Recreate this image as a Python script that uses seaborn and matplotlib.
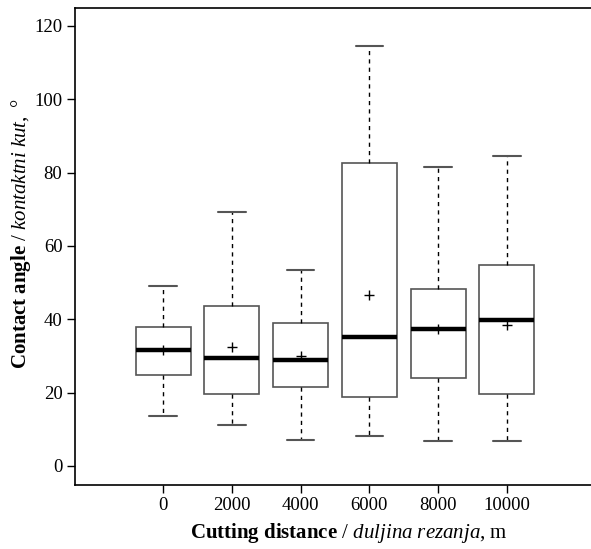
import pandas as pd
import matplotlib
matplotlib.use("Agg")
import matplotlib.pyplot as plt
import seaborn as sns

# five-number summaries
distances = ["0", "2000", "4000", "6000", "8000", "10000"]
mins = [13.6, 11.2, 7.0, 8.2, 6.8, 6.8]
q1s = [24.9, 19.7, 21.5, 18.7, 24.0, 19.7]
medians = [31.5, 29.5, 29.0, 35.2, 37.3, 39.8]
q3s = [38.0, 43.5, 39.0, 82.6, 48.2, 54.8]
maxs = [49.2, 69.2, 53.4, 114.4, 81.6, 84.4]
means = [31.5, 32.5, 30.0, 46.7, 37.3, 38.5]

sns.set_style("white")
plt.rcParams["font.family"] = ["Liberation Serif", "DejaVu Serif"]
plt.rcParams["mathtext.fontset"] = "custom"
plt.rcParams["mathtext.rm"] = "Liberation Serif"
plt.rcParams["mathtext.it"] = "Liberation Serif:italic"
plt.rcParams["mathtext.bf"] = "Liberation Serif:bold"
for k in ["text.color", "axes.labelcolor", "xtick.color", "ytick.color"]:
    plt.rcParams[k] = "black"

rows = []
for d, a, b, c, e, f in zip(distances, mins, q1s, medians, q3s, maxs):
    for v in (a, b, c, e, f):
        rows.append({"distance": d, "angle": v})
df = pd.DataFrame(rows)

fig = plt.figure(figsize=(5.91, 5.49), dpi=100)
# plot region runs a little past the right edge of the picture
ax = fig.add_axes([75 / 591, 64 / 549, 548 / 591, 477 / 549])

sns.boxplot(data=df, x="distance", y="angle", order=distances, whis=(0, 100),
            width=0.8, color="white", linecolor="#555555", linewidth=1.2,
            medianprops=dict(color="black", linewidth=3.2),
            whiskerprops=dict(color="black", linestyle=(0, (3, 3)), linewidth=1),
            capprops=dict(color="#555555", linewidth=1.5),
            ax=ax)

sns.pointplot(x=distances, y=means, order=distances, color="black",
              marker="+", linestyle="none", markersize=7, markeredgewidth=1,
              errorbar=None, ax=ax)

ax.set_xlim(-1.28, 6.69)
ax.set_ylim(-5.2, 124.9)
ax.set_yticks([0, 20, 40, 60, 80, 100, 120])
ax.tick_params(axis="both", direction="out", length=6, width=1, color="black",
               labelsize=13.5, left=True, bottom=True, pad=3)

for s in ["left", "bottom", "top"]:
    ax.spines[s].set_color("black")
    ax.spines[s].set_linewidth(1.2)
ax.spines["right"].set_visible(False)

ax.set_xlabel(r"$\mathbf{Cutting\ distance}$ / $\mathit{duljina\ rezanja}$, m",
              fontsize=15, labelpad=5)
ax.set_ylabel(r"$\mathbf{Contact\ angle}$ / $\mathit{kontaktni\ kut,}$ °",
              fontsize=15)
ax.yaxis.set_label_coords(-0.077, 0.526)

fig.savefig("out.png", dpi=100)
